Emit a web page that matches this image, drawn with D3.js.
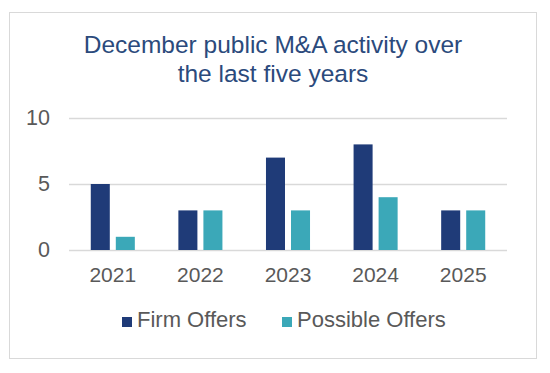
<!DOCTYPE html>
<html>
<head>
<meta charset="utf-8">
<script src="https://cdn.jsdelivr.net/npm/d3@7"></script>
<style>
  body { margin: 0; background: #fff; }
  svg { font-family: "Liberation Sans", Arial, sans-serif; }
</style>
</head>
<body>
<div id="chart"></div>
<script>
const years = ['2021', '2022', '2023', '2024', '2025'];
const seriesNames = ['Firm Offers', 'Possible Offers'];
const firmOffers = [5, 3, 7, 8, 3];
const possibleOffers = [1, 3, 3, 4, 3];
const yTicks = [0, 5, 10];
const titleLines = ['December public M&A activity over', 'the last five years'];

const colors = { 'Firm Offers': '#1f3b78', 'Possible Offers': '#3ba8b8' };

const width = 550;
const height = 373;
const margin = { top: 118, right: 43, bottom: 123, left: 69 };

const data = years.map((y, i) => ({
  year: y,
  values: [
    { key: 'Firm Offers', value: firmOffers[i] },
    { key: 'Possible Offers', value: possibleOffers[i] }
  ]
}));

const svg = d3.select('#chart')
  .append('svg')
  .attr('width', width)
  .attr('height', height);

// outer frame
svg.append('rect')
  .attr('x', 9.5)
  .attr('y', 12.5)
  .attr('width', 527)
  .attr('height', 346)
  .attr('fill', '#fff')
  .attr('stroke', '#d9d9d9')
  .attr('stroke-width', 1);

// title
svg.append('g')
  .selectAll('text')
  .data(titleLines)
  .enter()
  .append('text')
  .attr('x', 273)
  .attr('y', (d, i) => 53 + i * 29)
  .attr('text-anchor', 'middle')
  .attr('font-size', 24.5)
  .attr('fill', '#2b4a7c')
  .text(d => d);

const x0 = d3.scaleBand()
  .domain(years)
  .range([margin.left, width - margin.right]);

const x1 = d3.scaleBand()
  .domain(seriesNames)
  .range([0, x0.bandwidth()])
  .paddingInner(0.24)
  .paddingOuter(0.87);

const yScale = d3.scaleLinear()
  .domain([0, 10])
  .range([250, 118]);

// gridlines + y labels
const yAxis = d3.axisLeft(yScale)
  .tickValues(yTicks)
  .tickSize(-(x0.range()[1] - x0.range()[0]))
  .tickPadding(19)
  .tickFormat(d3.format('d'));

const yg = svg.append('g')
  .attr('class', 'yaxis')
  .attr('transform', `translate(${margin.left}, 0)`)
  .call(yAxis);

yg.select('.domain').remove();
yg.selectAll('.tick line').attr('stroke', '#d9d9d9').attr('stroke-width', 1.5);
yg.selectAll('.tick text')
  .attr('font-size', 21.5)
  .attr('fill', '#595959');

// bars
const groups = svg.append('g')
  .attr('class', 'bars')
  .selectAll('g')
  .data(data)
  .enter()
  .append('g')
  .attr('transform', d => `translate(${x0(d.year)}, 0)`);

groups.selectAll('rect')
  .data(d => d.values)
  .enter()
  .append('rect')
  .attr('x', d => x1(d.key))
  .attr('y', d => yScale(d.value))
  .attr('width', x1.bandwidth())
  .attr('height', d => yScale(0) - yScale(d.value))
  .attr('fill', d => colors[d.key]);

// x labels
const xAxis = d3.axisBottom(x0)
  .tickSize(0)
  .tickPadding(17);

const xg = svg.append('g')
  .attr('class', 'xaxis')
  .attr('transform', `translate(0, 250)`)
  .call(xAxis);

xg.select('.domain').remove();
xg.selectAll('.tick text')
  .attr('font-size', 21)
  .attr('fill', '#595959');

// legend
const legendX = [122, 282];
const legend = svg.append('g')
  .attr('class', 'legend')
  .selectAll('g')
  .data(seriesNames)
  .enter()
  .append('g')
  .attr('transform', (d, i) => `translate(${legendX[i]}, 317)`);

legend.append('rect')
  .attr('width', 10)
  .attr('height', 10)
  .attr('fill', d => colors[d]);

legend.append('text')
  .attr('x', 15)
  .attr('y', 10)
  .attr('font-size', 22)
  .attr('fill', '#595959')
  .text(d => d);
</script>
</body>
</html>
